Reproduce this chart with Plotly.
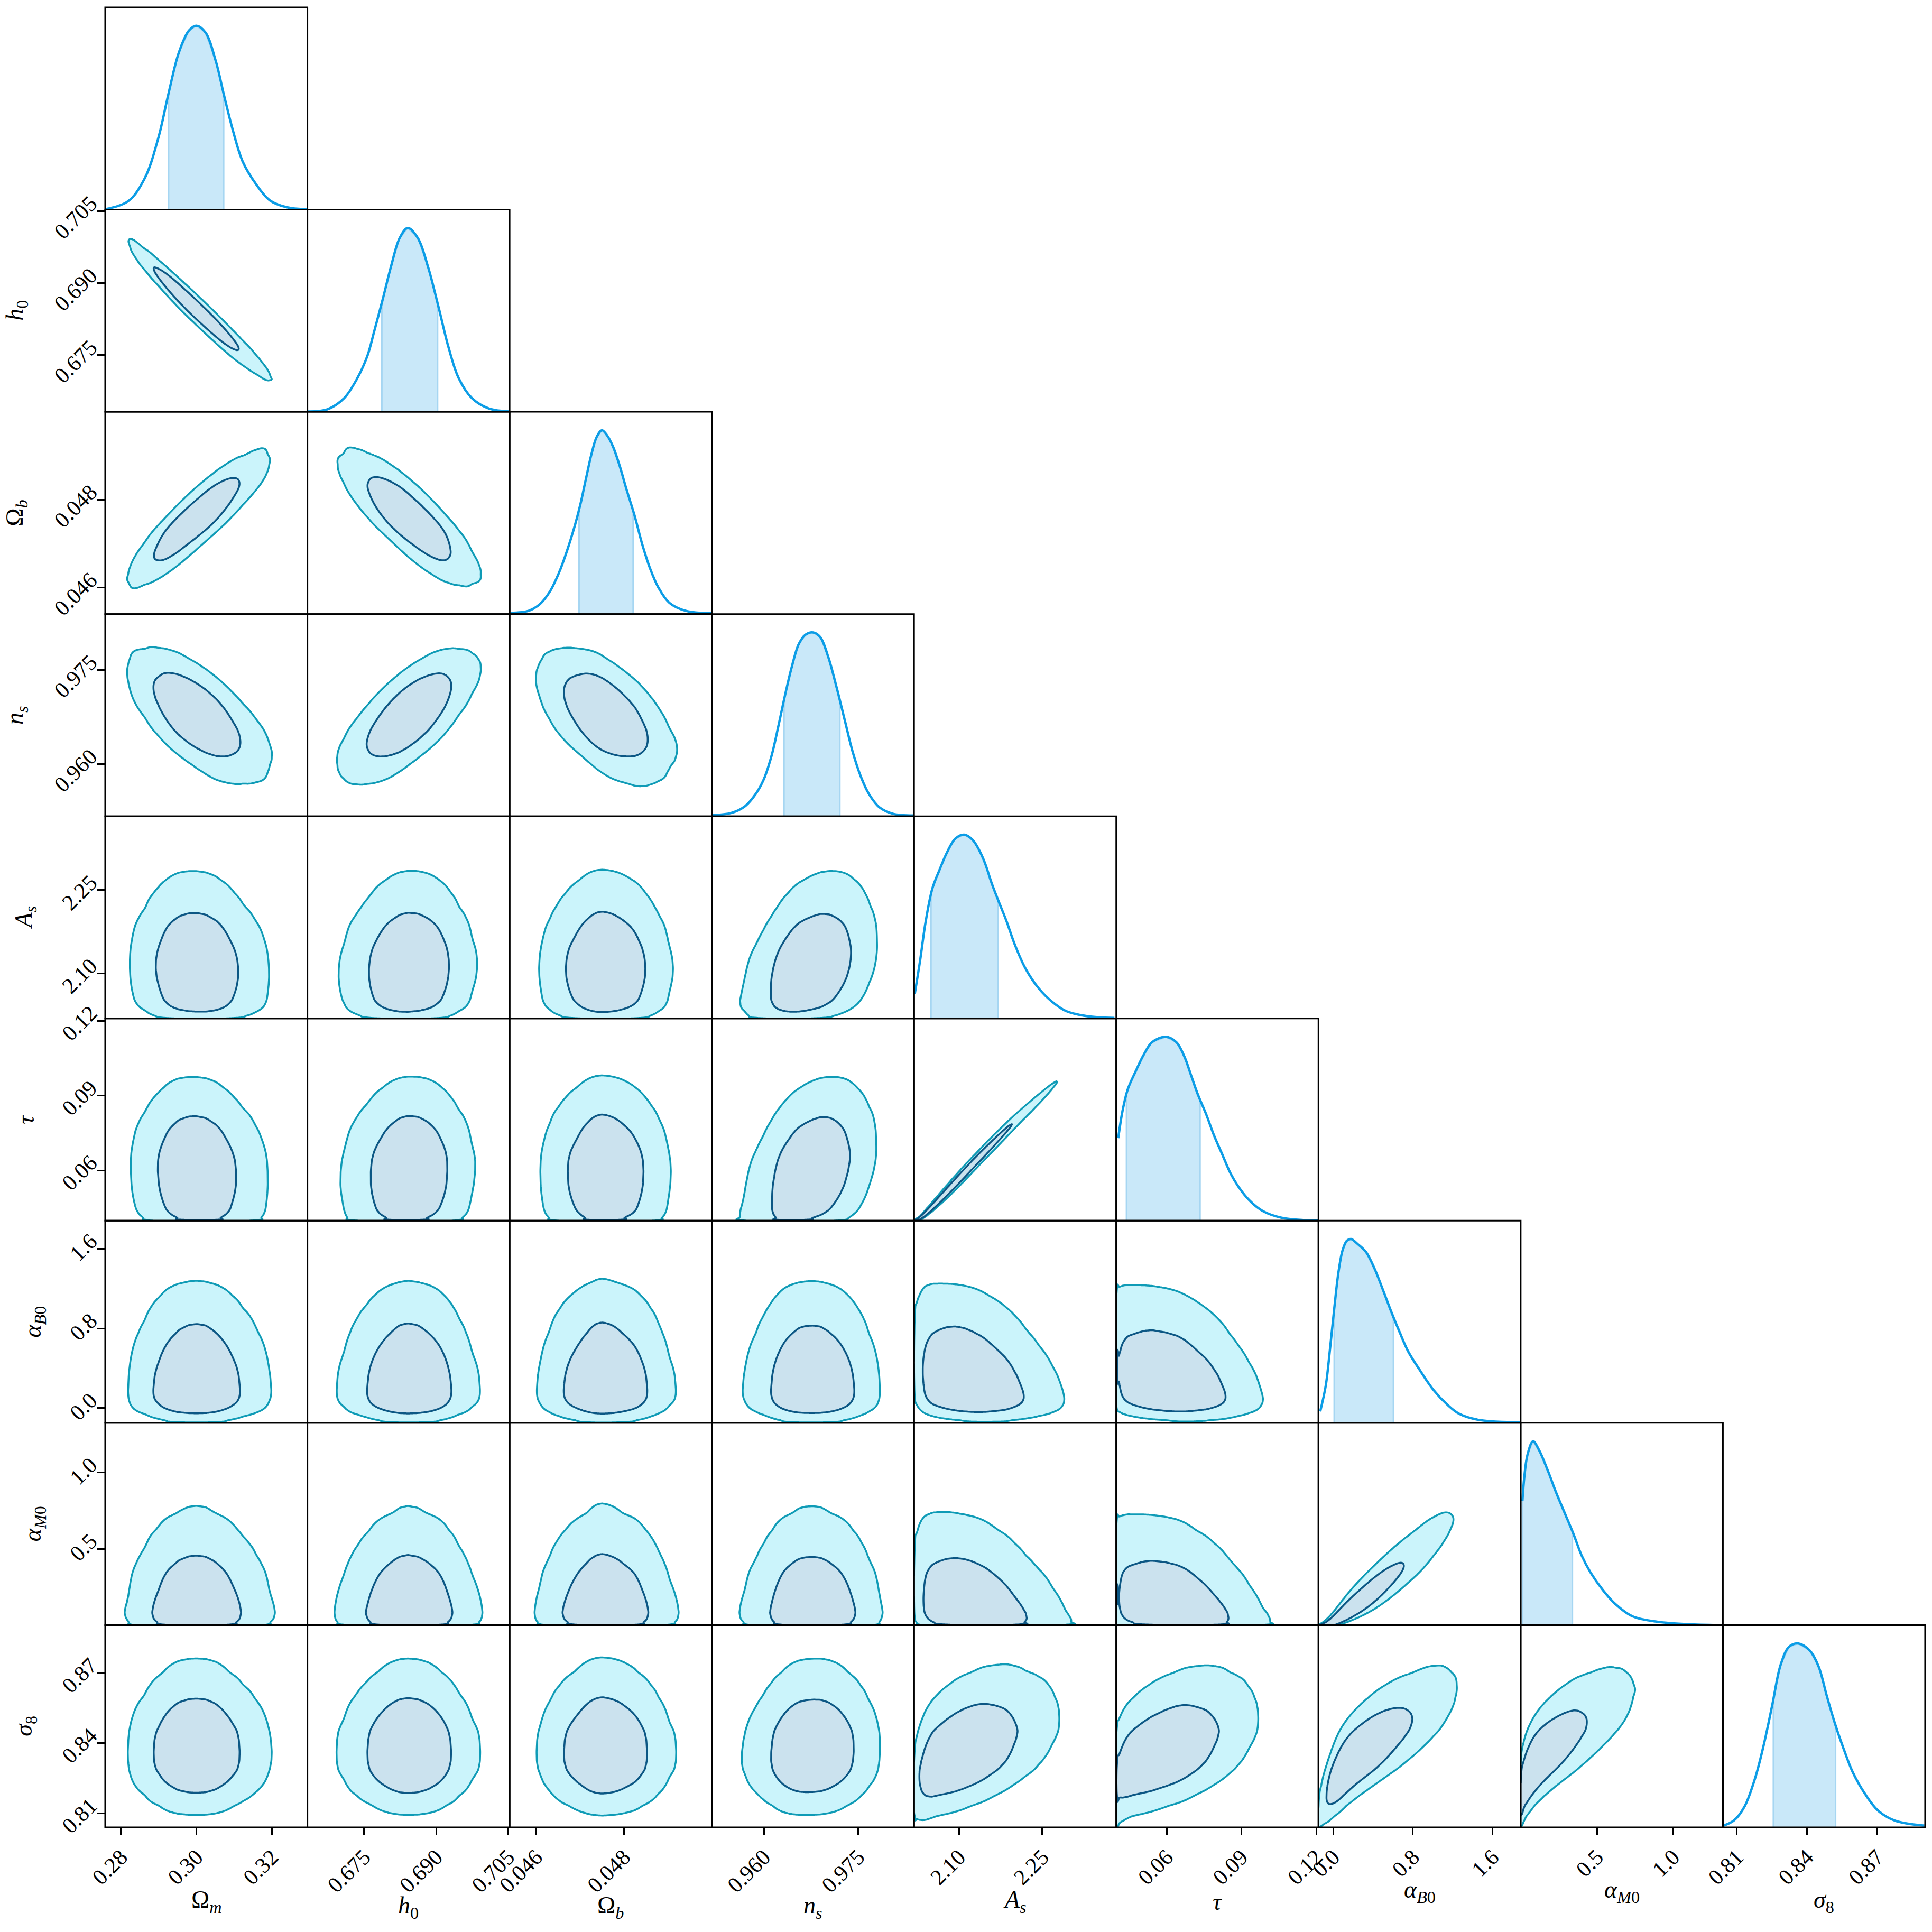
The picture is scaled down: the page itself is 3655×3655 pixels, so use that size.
import math
import numpy as np
import plotly.graph_objects as go

# axis labels (order of the corner plot)
labels = ["Ω<sub><i>m</i></sub>", "<i>h</i><sub>0</sub>", "Ω<sub><i>b</i></sub>", "<i>n<sub>s</sub></i>",
          "<i>A<sub>s</sub></i>", "<i>τ</i>", "<i>α</i><sub><i>B</i>0</sub>", "<i>α</i><sub><i>M</i>0</sub>",
          "<i>σ</i><sub>8</sub>"]

# 1D marginals (x, height relative to peak)
om_x = [0.2758, 0.2819, 0.2863, 0.2899, 0.2926, 0.2953, 0.2980, 0.3000, 0.3024, 0.3051, 0.3073, 0.3096,
        0.3123, 0.3158, 0.3194, 0.3239, 0.3292]
om_h = [0.002, 0.046, 0.171, 0.391, 0.633, 0.853, 0.974, 1.0, 0.963, 0.809, 0.622, 0.435, 0.259, 0.138,
        0.051, 0.013, 0.002]
h0_x = [0.6632, 0.6673, 0.6708, 0.6736, 0.6757, 0.6771, 0.6789, 0.6806, 0.6824, 0.6841, 0.6862, 0.6883,
        0.6905, 0.6926, 0.6947, 0.6975, 0.7010, 0.7052]
h0_h = [0.002, 0.013, 0.073, 0.183, 0.305, 0.437, 0.614, 0.790, 0.945, 1.0, 0.945, 0.790, 0.570, 0.349,
        0.183, 0.073, 0.018, 0.002]
ob_x = [0.04542, 0.04584, 0.04609, 0.04631, 0.04652, 0.04670, 0.04689, 0.04701, 0.04713, 0.04726, 0.04738,
        0.04750, 0.04762, 0.04775, 0.04790, 0.04805, 0.04824, 0.04842, 0.04860, 0.04879, 0.04903, 0.04940,
        0.04998]
ob_h = [0.006, 0.018, 0.054, 0.120, 0.223, 0.340, 0.487, 0.597, 0.729, 0.868, 0.963, 1.0, 0.971, 0.912,
        0.809, 0.685, 0.538, 0.377, 0.245, 0.142, 0.062, 0.018, 0.004]
ns_x = [0.95181, 0.95481, 0.95696, 0.95868, 0.95997, 0.96125, 0.96233, 0.96340, 0.96448, 0.96555, 0.96663,
        0.96783, 0.96898, 0.97027, 0.97157, 0.97285, 0.97414, 0.97543, 0.97672, 0.97844, 0.98058, 0.98381]
ns_h = [0.006, 0.018, 0.054, 0.121, 0.201, 0.334, 0.496, 0.665, 0.819, 0.937, 0.988, 1.0, 0.974, 0.863,
        0.701, 0.525, 0.349, 0.216, 0.121, 0.047, 0.013, 0.004]
as_x = [2.0203, 2.0300, 2.0397, 2.0519, 2.0640, 2.0786, 2.0931, 2.1092, 2.1247, 2.1369, 2.1466, 2.1587,
        2.1709, 2.1854, 2.2000, 2.2194, 2.2437, 2.2680, 2.2922, 2.3310, 2.3797]
as_h = [0.134, 0.317, 0.523, 0.706, 0.802, 0.905, 0.978, 1.0, 0.971, 0.912, 0.846, 0.736, 0.640, 0.530,
        0.405, 0.273, 0.163, 0.090, 0.041, 0.012, 0.003]
tau_x = [0.0406, 0.0423, 0.0444, 0.0477, 0.0509, 0.0542, 0.0596, 0.0639, 0.0672, 0.0699, 0.0726, 0.0758,
         0.0790, 0.0823, 0.0856, 0.0888, 0.0931, 0.0985, 0.1061, 0.1148, 0.1209]
tau_h = [0.449, 0.596, 0.714, 0.816, 0.905, 0.971, 1.0, 0.971, 0.890, 0.787, 0.684, 0.581, 0.464, 0.361,
         0.258, 0.185, 0.112, 0.053, 0.016, 0.003, 0.0]
ab_x = [-0.1315, -0.0757, -0.0332, 0.0093, 0.0518, 0.0943, 0.1368, 0.1793, 0.2430, 0.3280, 0.4130, 0.4980,
        0.5830, 0.6680, 0.7530, 0.8805, 1.0085, 1.1360, 1.2635, 1.4760, 1.8797]
ab_h = [0.062, 0.203, 0.401, 0.621, 0.819, 0.941, 0.991, 1.0, 0.974, 0.930, 0.841, 0.725, 0.604, 0.492,
        0.388, 0.278, 0.178, 0.104, 0.050, 0.015, 0.004]
am_x = [0.0114, 0.0253, 0.0447, 0.0808, 0.1224, 0.1782, 0.2336, 0.2891, 0.3446, 0.4001, 0.4555, 0.5387,
        0.6219, 0.7329, 0.8996, 1.1215, 1.3240]
am_h = [0.675, 0.818, 0.927, 1.0, 0.949, 0.840, 0.719, 0.609, 0.499, 0.378, 0.290, 0.191, 0.114, 0.048,
        0.018, 0.004, 0.0]
s8_x = [0.8042, 0.8087, 0.8133, 0.8178, 0.8214, 0.8251, 0.8287, 0.8323, 0.8363, 0.8413, 0.8450, 0.8486,
        0.8522, 0.8558, 0.8595, 0.8649, 0.8703, 0.8775, 0.8902]
s8_h = [0.009, 0.037, 0.114, 0.268, 0.444, 0.664, 0.884, 0.982, 1.0, 0.960, 0.873, 0.708, 0.554, 0.422,
        0.301, 0.180, 0.092, 0.037, 0.009]

# 68% intervals (shaded bands)
shades = [[0.2926, 0.3072], [0.6787, 0.6903], [0.04698, 0.04821], [0.96319, 0.97208], [2.0495, 2.1699],
          [0.0439, 0.0734], [0.0093, 0.6043], [0.0114, 0.3390], [0.8256, 0.8522]]

# axis ranges and ticks
ranges = [[0.2758, 0.3294], [0.6632, 0.7053], [0.0454, 0.0500], [0.9517, 0.9839], [2.019, 2.383],
          [0.0398, 0.1209], [-0.149, 1.883], [0.0, 1.326], [0.804, 0.8905]]
tickvals = [[0.28, 0.30, 0.32], [0.675, 0.690, 0.705], [0.046, 0.048], [0.960, 0.975], [2.10, 2.25],
            [0.06, 0.09, 0.12], [0.0, 0.8, 1.6], [0.5, 1.0], [0.81, 0.84, 0.87]]
ticktext = [["0.28", "0.30", "0.32"], ["0.675", "0.690", "0.705"], ["0.046", "0.048"], ["0.960", "0.975"],
            ["2.10", "2.25"], ["0.06", "0.09", "0.12"], ["0.0", "0.8", "1.6"], ["0.5", "1.0"],
            ["0.81", "0.84", "0.87"]]

# pairwise correlations (row param vs column param), lower triangle
corr = [
    [],
    [-0.975],
    [0.89, -0.82],
    [-0.65, 0.70, -0.55],
    [-0.05, 0.05, 0.0, 0.30],
    [-0.05, 0.05, 0.0, 0.30, 0.996],
    [0.0, 0.0, 0.0, 0.0, -0.2, -0.2],
    [0.0, 0.0, 0.0, 0.0, -0.2, -0.2, 0.955],
    [0.0, 0.0, 0.0, 0.05, 0.45, 0.45, 0.8, 0.8],
]

curves = [(om_x, om_h), (h0_x, h0_h), (ob_x, ob_h), (ns_x, ns_h), (as_x, as_h), (tau_x, tau_h),
          (ab_x, ab_h), (am_x, am_h), (s8_x, s8_h)]

LINE1D = "#0c9de6"
SHADE = "#c9e8f9"
SHADE_EDGE = "#a6d6f2"
OUT_FILL = "#cbf4fb"
OUT_LINE = "#0f9bb6"
IN_FILL = "#cbe2ee"
IN_LINE = "#0c5784"
FONT = "Liberation Serif"
TICK_SIZE = 42

W = 3655
X0, Y0, CELL = 199, 14, 382.55
N = 9
NG = 150

u_tab = np.linspace(-4.5, 4.5, 1801)
Phi_tab = 0.5 * (1 + np.array([math.erf(v / math.sqrt(2)) for v in u_tab]))


def gauss_map(k):
    lo, hi = ranges[k]
    xg = np.linspace(lo, hi, NG)
    p = np.interp(xg, curves[k][0], curves[k][1])
    F = (np.cumsum(p) - 0.5 * p) / p.sum()
    u = np.interp(np.clip(F, Phi_tab[0], Phi_tab[-1]), Phi_tab, u_tab)
    du = np.abs(np.gradient(u, xg))
    return xg, u, du


G = [gauss_map(k) for k in range(N)]


def density(i, j):
    xg, ux, dux = G[i]
    yg, uy, duy = G[j]
    r = corr[j][i]
    UX, UY = np.meshgrid(ux, uy)
    q = (UX ** 2 - 2 * r * UX * UY + UY ** 2) / (2 * (1 - r * r))
    P = np.exp(-q) * duy[:, None] * dux[None, :]
    P /= P.max()
    s = np.sort(P.ravel())[::-1]
    c = np.cumsum(s) / s.sum()
    l68 = s[np.searchsorted(c, 0.68)]
    l95 = s[np.searchsorted(c, 0.95)]
    return xg, yg, P.astype(np.float32), float(l68), float(l95)


fig = go.Figure()
layout = {}
shapes = []
k = 0
for j in range(N):
    for i in range(j + 1):
        k += 1
        xs = "x" if k == 1 else f"x{k}"
        ys = "y" if k == 1 else f"y{k}"
        xk = "xaxis" if k == 1 else f"xaxis{k}"
        yk = "yaxis" if k == 1 else f"yaxis{k}"
        bottom = j == N - 1
        left = i == 0 and j > 0
        xd = [(X0 + CELL * i) / W, (X0 + CELL * (i + 1)) / W]
        yd = [1 - (Y0 + CELL * (j + 1)) / W, 1 - (Y0 + CELL * j) / W]
        layout[xk] = dict(
            domain=xd, range=ranges[i], anchor=ys,
            showline=False, showgrid=False, zeroline=False,
            ticks="outside" if bottom else "", ticklen=14, tickwidth=3, tickcolor="black",
            tickvals=tickvals[i], ticktext=ticktext[i], showticklabels=bottom, tickangle=-45,
            tickfont=dict(family=FONT, size=TICK_SIZE, color="black"), automargin=False)
        yrange = [0, 1.1] if i == j else ranges[j]
        ylayout = dict(
            domain=yd, range=yrange, anchor=xs,
            showline=False, showgrid=False, zeroline=False,
            ticks="outside" if left else "", ticklen=14, tickwidth=3, tickcolor="black",
            showticklabels=left, tickangle=-45, ticklabelshift=-20, ticklabelstandoff=4,
            tickfont=dict(family=FONT, size=TICK_SIZE, color="black"), automargin=False)
        if left:
            ylayout.update(tickvals=tickvals[j], ticktext=ticktext[j])
        layout[yk] = ylayout
        shapes.append(dict(type="rect", xref="paper", yref="paper", x0=xd[0], x1=xd[1], y0=yd[0], y1=yd[1],
                           line=dict(color="black", width=3), fillcolor="rgba(0,0,0,0)", layer="above"))

        if i == j:
            cx, ch = curves[i]
            lo, hi = shades[i]
            inside = [(a, b) for a, b in zip(cx, ch) if lo < a < hi]
            fx = [lo, lo] + [a for a, _ in inside] + [hi, hi]
            fy = [0, float(np.interp(lo, cx, ch))] + [b for _, b in inside] + [float(np.interp(hi, cx, ch)), 0]
            fig.add_trace(go.Scatter(x=fx, y=fy, mode="lines", fill="toself", fillcolor=SHADE,
                                     line=dict(color=SHADE_EDGE, width=3), hoverinfo="skip",
                                     xaxis=xs, yaxis=ys))
            fig.add_trace(go.Scatter(x=cx, y=ch, mode="lines", line=dict(color=LINE1D, width=4.5, shape="spline"),
                                     hoverinfo="skip", xaxis=xs, yaxis=ys))
        else:
            xg, yg, P, l68, l95 = density(i, j)
            fig.add_trace(go.Contour(x=xg, y=yg, z=P, showscale=False, hoverinfo="skip",
                                     contours=dict(type="constraint", operation="<", value=l95),
                                     fillcolor=OUT_FILL, line=dict(color=OUT_LINE, width=3.5),
                                     xaxis=xs, yaxis=ys))
            fig.add_trace(go.Contour(x=xg, y=yg, z=P, showscale=False, hoverinfo="skip",
                                     contours=dict(type="constraint", operation="<", value=l68),
                                     fillcolor=IN_FILL, line=dict(color=IN_LINE, width=3.5),
                                     xaxis=xs, yaxis=ys))

# titles sit just outside each axis' tick labels, so their offset follows the label length
xbox = {3: 42, 4: 61, 5: 72}
ybox = {3: 134, 4: 151, 5: 168}
annotations = []
for i in range(N):
    n = max(len(t) for t in ticktext[i])
    annotations.append(dict(x=(X0 + CELL * (i + 0.5)) / W, y=1 - (3457 + 35 + xbox[n] + 44) / W,
                            xref="paper", yref="paper", text=labels[i], showarrow=False,
                            xanchor="center", yanchor="middle",
                            font=dict(family=FONT, size=46, color="black")))
for j in range(1, N):
    n = max(len(t) for t in ticktext[j])
    annotations.append(dict(x=(X0 - ybox[n]) / W, y=1 - (Y0 + CELL * (j + 0.5)) / W, xref="paper",
                            yref="paper", text=labels[j], showarrow=False, xanchor="center",
                            yanchor="middle", textangle=-90, font=dict(family=FONT, size=46, color="black")))

fig.update_layout(width=W, height=W, margin=dict(l=0, r=0, t=0, b=0), paper_bgcolor="white",
                  plot_bgcolor="white", showlegend=False, annotations=annotations, shapes=shapes, **layout)

fig.write_html("out.html", config={"displayModeBar": False},
               post_script="document.body.style.margin='0px';")
